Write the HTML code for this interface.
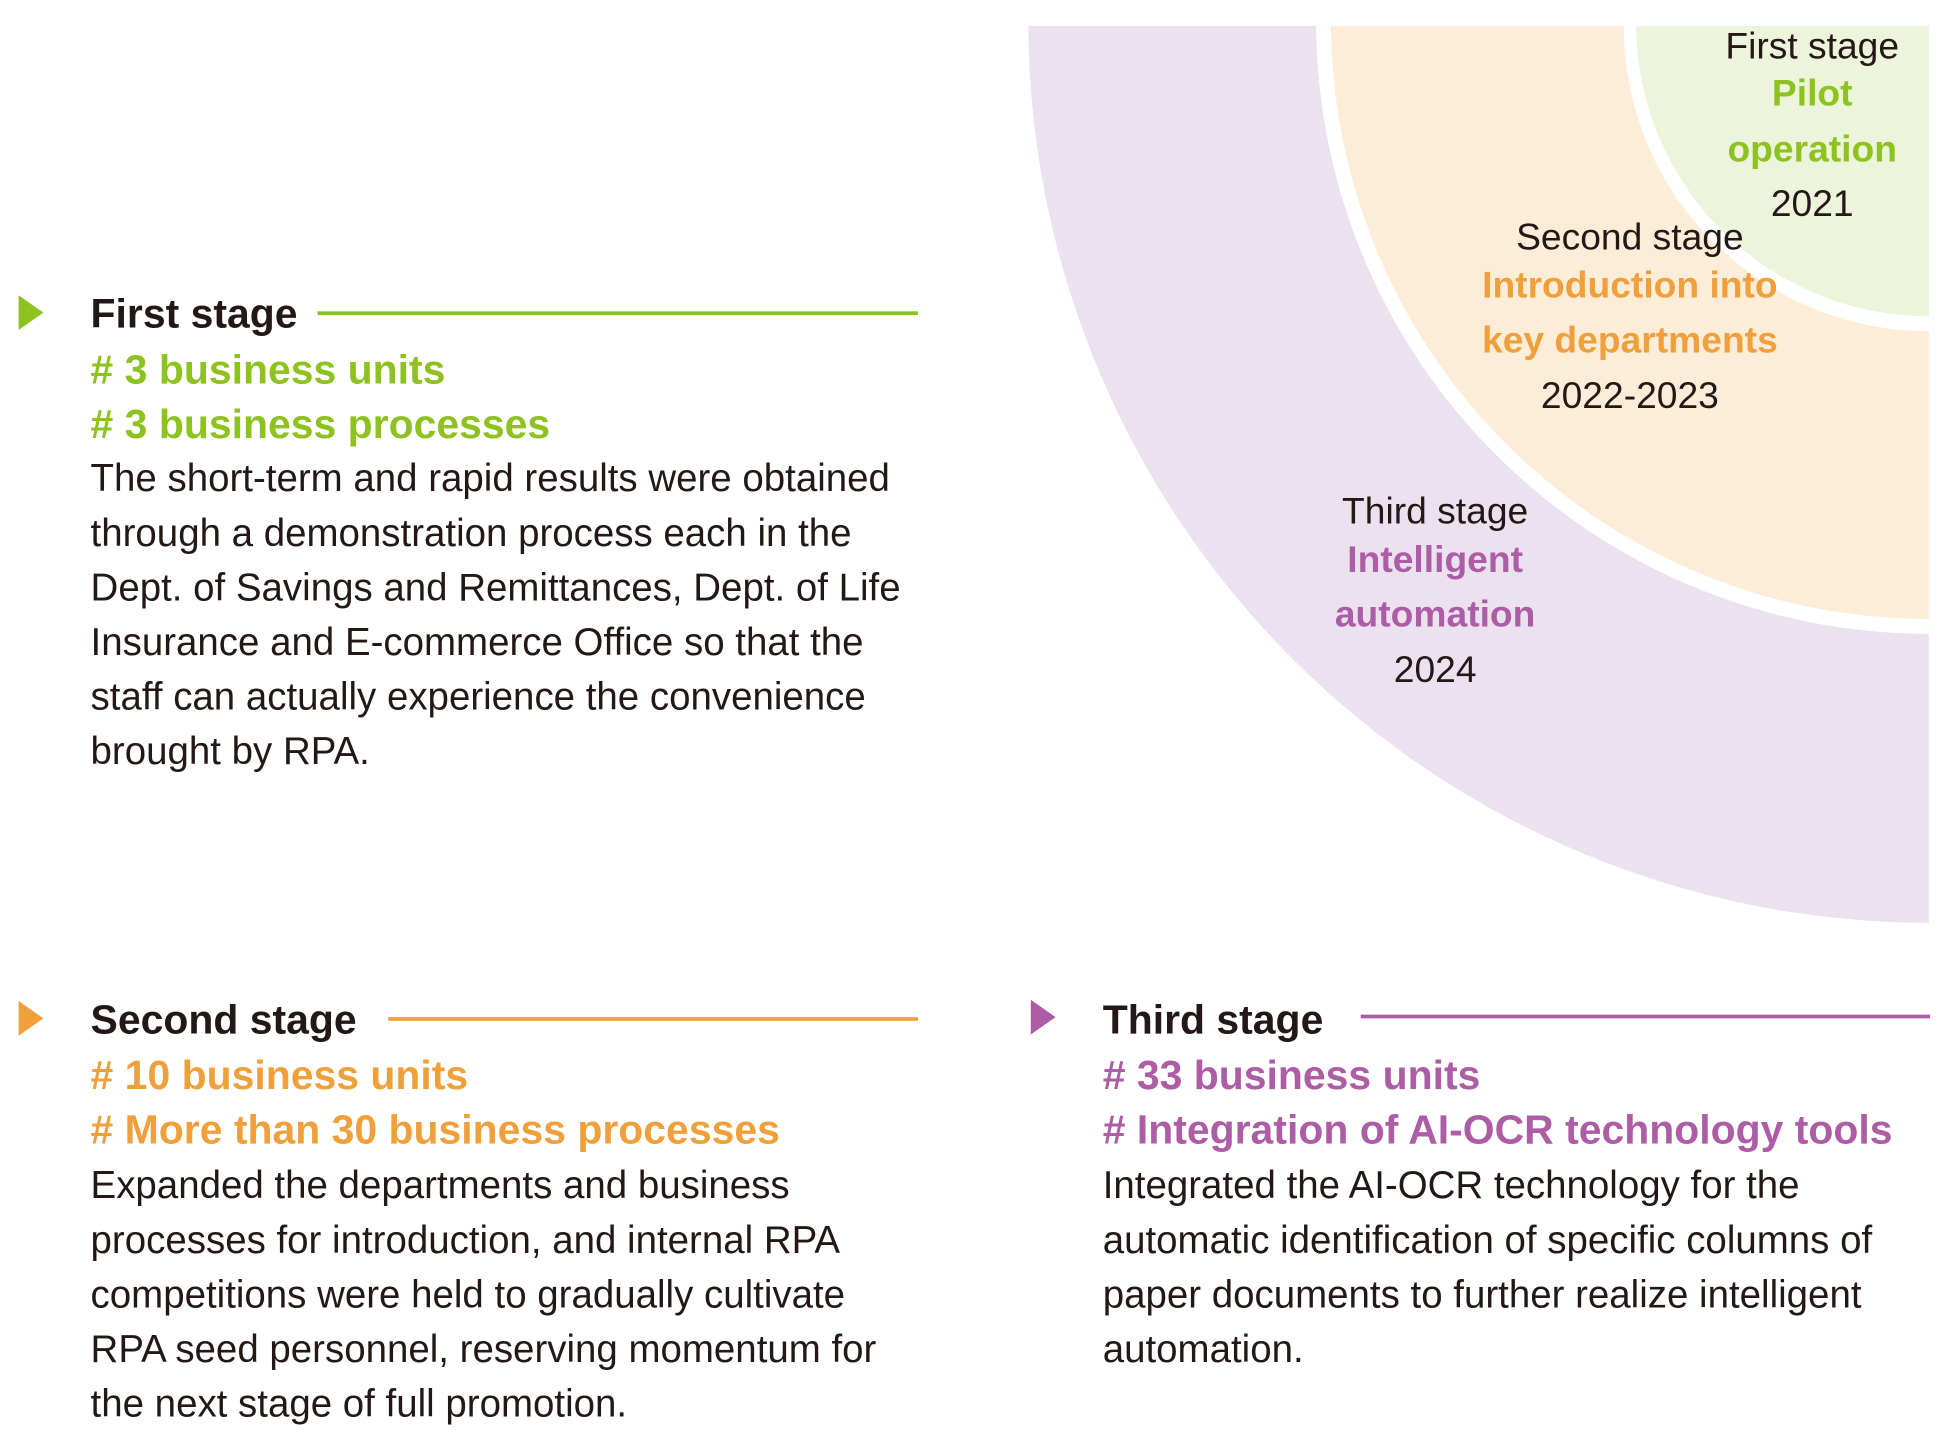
<!DOCTYPE html>
<html><head><meta charset="utf-8"><style>
html,body{margin:0;padding:0;background:#fff;}
#w{width:1945px;height:1451px;overflow:hidden;position:relative;}
#s{position:absolute;left:0;top:0;width:1568px;height:1170px;transform:scale(1.2404);transform-origin:0 0;font-family:"Liberation Sans",sans-serif;color:#231815;}
.t{position:absolute;white-space:nowrap;line-height:44px;font-size:31px;}
.b{font-weight:bold;}
.g{color:#8dc21f}.o{color:#f0a03a}.p{color:#ad5ca6}
.c{text-align:center;width:400px;font-size:30px;}
.ln{position:absolute;height:3px;}
</style></head><body><div id="w"><div id="s">
<svg width="1568" height="1170" style="position:absolute;left:0;top:0">
<path d="M1555,21 L829,21 A727,727 0 0 0 1555,744 Z" fill="#ece1ef"/>
<path d="M1555,21 L1061,21 A494,494 0 0 0 1555,511 Z" fill="#fff"/>
<path d="M1555,21 L1073,21 A482,482 0 0 0 1555,499 Z" fill="#fcecd8"/>
<path d="M1555,21 L1309,21 A246,246 0 0 0 1555,267 Z" fill="#fff"/>
<path d="M1555,21 L1319,21 A236,236 0 0 0 1555,255 Z" fill="#edf4dc"/>
<polygon points="15,238 35,252 15,266" fill="#8dc21f"/>
<polygon points="15,807 35,821 15,835" fill="#f0a03a"/>
<polygon points="831,806 851,820 831,834" fill="#ad5ca6"/>
</svg>
<div class="ln" style="left:256px;top:251px;width:484px;background:#8dc21f"></div>
<div class="ln" style="left:313px;top:820px;width:427px;background:#f0a03a"></div>
<div class="ln" style="left:1097px;top:818px;width:459px;background:#ad5ca6"></div>

<div class="t b" style="left:73px;top:231px;font-size:33px">First stage</div>
<div class="t b g" style="left:73px;top:276px;font-size:33px">#&nbsp;3 business units</div>
<div class="t b g" style="left:73px;top:320px;font-size:33px">#&nbsp;3 business processes</div>
<div class="t" style="left:73px;top:364px">The short-term and rapid results were obtained<br>through a demonstration process each in the<br>Dept. of Savings and Remittances, Dept. of Life<br>Insurance and E-commerce Office so that the<br>staff can actually experience the convenience<br>brought by RPA.</div>

<div class="t b" style="left:73px;top:800px;font-size:33px">Second stage</div>
<div class="t b o" style="left:73px;top:845px;font-size:33px">#&nbsp;10 business units</div>
<div class="t b o" style="left:73px;top:889px;font-size:33px">#&nbsp;More than 30 business processes</div>
<div class="t" style="left:73px;top:934px">Expanded the departments and business<br>processes for introduction, and internal RPA<br>competitions were held to gradually cultivate<br>RPA seed personnel, reserving momentum for<br>the next stage of full promotion.</div>

<div class="t b" style="left:889px;top:800px;font-size:33px">Third stage</div>
<div class="t b p" style="left:889px;top:845px;font-size:33px">#&nbsp;33 business units</div>
<div class="t b p" style="left:889px;top:889px;font-size:33px">#&nbsp;Integration of AI-OCR technology tools</div>
<div class="t" style="left:889px;top:934px">Integrated the AI-OCR technology for the<br>automatic identification of specific columns of<br>paper documents to further realize intelligent<br>automation.</div>

<div class="t c" style="left:1261px;top:16px">First stage</div>
<div class="t c b g" style="left:1261px;top:54px">Pilot</div>
<div class="t c b g" style="left:1261px;top:99px">operation</div>
<div class="t c" style="left:1261px;top:143px">2021</div>

<div class="t c" style="left:1114px;top:170px">Second stage</div>
<div class="t c b o" style="left:1114px;top:209px">Introduction into</div>
<div class="t c b o" style="left:1114px;top:253px">key departments</div>
<div class="t c" style="left:1114px;top:298px">2022-2023</div>

<div class="t c" style="left:957px;top:391px">Third stage</div>
<div class="t c b p" style="left:957px;top:430px">Intelligent</div>
<div class="t c b p" style="left:957px;top:474px">automation</div>
<div class="t c" style="left:957px;top:519px">2024</div>
</div></div></body></html>
